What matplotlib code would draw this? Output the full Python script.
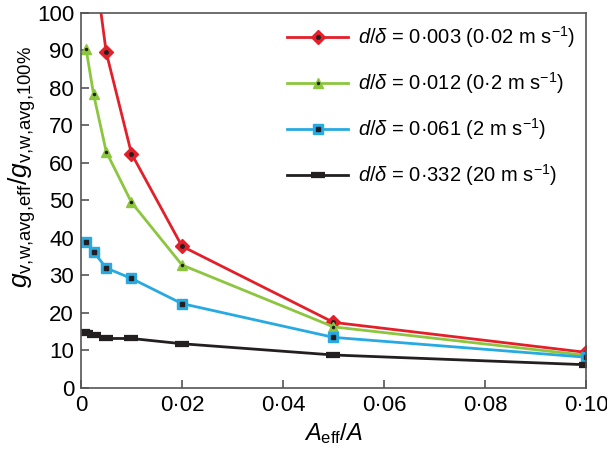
import matplotlib
matplotlib.use('Agg')
import matplotlib.pyplot as plt
from matplotlib.ticker import FuncFormatter

plt.rcParams['font.family'] = ['Liberation Sans', 'DejaVu Sans']
plt.rcParams['mathtext.fontset'] = 'custom'
plt.rcParams['mathtext.rm'] = 'Liberation Sans'
plt.rcParams['mathtext.it'] = 'Liberation Sans:italic'

# datos
x_rojo = [0.001, 0.0025, 0.005, 0.01, 0.02, 0.05, 0.10]
y_rojo = [180, 115, 89.5, 62.5, 37.8, 17.5, 9.5]
x_verde = [0.001, 0.0025, 0.005, 0.01, 0.02, 0.05, 0.10]
y_verde = [90.5, 78.3, 63.0, 49.5, 32.8, 16.3, 8.7]
x_azul = [0.001, 0.0025, 0.005, 0.01, 0.02, 0.05, 0.10]
y_azul = [39.0, 36.3, 32.0, 29.2, 22.5, 13.5, 8.2]
x_negro = [0.0005, 0.001, 0.0025, 0.005, 0.01, 0.02, 0.05, 0.10]
y_negro = [14.8, 14.6, 14.2, 13.2, 13.2, 11.8, 8.8, 6.2]

etiquetas = [r'$d/\delta$ = 0·003 (0·02 m s$^{-1}$)',
             r'$d/\delta$ = 0·012 (0·2 m s$^{-1}$)',
             r'$d/\delta$ = 0·061 (2 m s$^{-1}$)',
             r'$d/\delta$ = 0·332 (20 m s$^{-1}$)']

fig = plt.figure(figsize=(6.07, 4.54), dpi=100)
ax = fig.add_axes([0.1334, 0.1454, 0.832, 0.826])

rojo = '#e3202a'
verde = '#8cc63f'
azul = '#27aae1'
negro = '#231f20'

handles = []
l1, = ax.plot(x_rojo, y_rojo, '-', color=rojo, lw=2, marker='D', ms=7,
              mfc=rojo, mec=rojo)
p1, = ax.plot(x_rojo, y_rojo, 'o', color=negro, ms=2.5, ls='none')
handles.append((l1, p1))

l2, = ax.plot(x_verde, y_verde, '-', color=verde, lw=2, marker='^', ms=7,
              mfc=verde, mec=verde)
p2, = ax.plot(x_verde, y_verde, 'o', color=negro, ms=1.5, ls='none')
handles.append((l2, p2))

l3, = ax.plot(x_azul, y_azul, '-', color=azul, lw=2, marker='s', ms=6.5,
              mfc=azul, mec=azul)
p3, = ax.plot(x_azul, y_azul, 's', color=negro, ms=3, ls='none')
handles.append((l3, p3))

l4, = ax.plot(x_negro, y_negro, '-', color=negro, lw=2, marker='_', ms=10,
              mew=4.5, mec=negro)
handles.append(l4)

ax.set_xlim(0, 0.10)
ax.set_ylim(0, 100)
ax.set_xticks([0, 0.02, 0.04, 0.06, 0.08, 0.10])
ax.set_yticks(range(0, 101, 10))
ax.xaxis.set_major_formatter(FuncFormatter(
    lambda v, p: '0' if v == 0 else ('%.2f' % v).replace('.', '·')))

ax.tick_params(direction='in', labelsize=16, length=6, width=1.2,
               color='#555555', pad=5)
for s in ax.spines.values():
    s.set_color('#555555')
    s.set_linewidth(1.2)

ax.set_xlabel(r'$A_{\mathrm{eff}}/A$', fontsize=17, labelpad=4)
ax.set_ylabel(r'$g_{\mathrm{v{,}w{,}avg{,}eff}}/g_{\mathrm{v{,}w{,}avg{,}100\%}}$',
              fontsize=19)
ax.yaxis.set_label_coords(-0.085, 0.59)

leg = ax.legend(handles, etiquetas, loc='upper right', fontsize=14.5,
                borderaxespad=0, frameon=False, labelspacing=1.0,
                handlelength=3.0, borderpad=0.55, handletextpad=0.5)

fig.savefig('out.png', dpi=100)
